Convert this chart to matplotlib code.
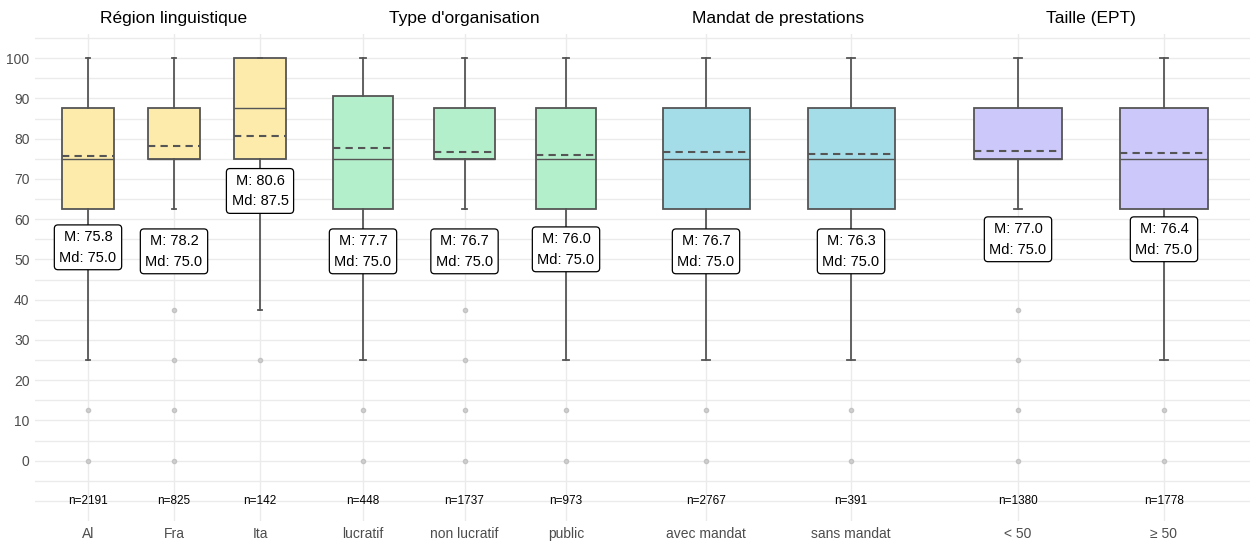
import numpy as np
import matplotlib
matplotlib.use("Agg")
import matplotlib.pyplot as plt

plt.rcParams['font.family'] = ['Liberation Sans', 'DejaVu Sans']

# facets
titles = ["Région linguistique", "Type d'organisation", "Mandat de prestations", "Taille (EPT)"]
categories = [["Al", "Fra", "Ita"],
              ["lucratif", "non lucratif", "public"],
              ["avec mandat", "sans mandat"],
              ["< 50", "≥ 50"]]
fills = ["#FCEBAB", "#B4EFCC", "#A4DDE8", "#CCC9FA"]

# box statistics per category
q1 = [[62.5, 75, 75], [62.5, 75, 62.5], [62.5, 62.5], [75, 62.5]]
med = [[75, 75, 87.5], [75, 75, 75], [75, 75], [75, 75]]
q3 = [[87.5, 87.5, 100], [90.625, 87.5, 87.5], [87.5, 87.5], [87.5, 87.5]]
whislo = [[25, 62.5, 37.5], [25, 62.5, 25], [25, 25], [62.5, 25]]
whishi = [[100, 100, 100], [100, 100, 100], [100, 100], [100, 100]]
means = [[75.8, 78.2, 80.6], [77.7, 76.7, 76.0], [76.7, 76.3], [77.0, 76.4]]
fliers = [[[12.5, 0], [37.5, 25, 12.5, 0], [25]],
          [[12.5, 0], [37.5, 25, 12.5, 0], [12.5, 0]],
          [[12.5, 0], [12.5, 0]],
          [[37.5, 25, 12.5, 0], [12.5, 0]]]
counts = [[2191, 825, 142], [448, 1737, 973], [2767, 391], [1380, 1778]]

# where the M/Md labels sit
label_y = [[53, 52, 67], [52, 52, 52.5], [52, 52], [55, 55]]

W, H = 1253, 541
fig = plt.figure(figsize=(W / 100, H / 100), dpi=100)

# panel extents in pixels: (left, right, first category px, spacing px)
panels = [(35, 308, 88, 86), (308, 622, 363, 101.5), (622, 934, 706, 145), (934, 1250, 1018, 146)]
top_px, bot_px = 34, 521
ylo, yhi = -15, 106

grid_c = "#EBEBEB"
edge_c = "#555555"

for i, (l, r, c0, sp) in enumerate(panels):
    ax = fig.add_axes([l / W, 1 - bot_px / H, (r - l) / W, (bot_px - top_px) / H])
    n = len(categories[i])
    ax.set_xlim(1 - (c0 - l) / sp, n + (r - (c0 + sp * (n - 1))) / sp)
    ax.set_ylim(ylo, yhi)
    for s in ax.spines.values():
        s.set_visible(False)
    for y in np.arange(-10, 106, 5):
        ax.axhline(y, color=grid_c, lw=1.0, zorder=0)
    for x in range(1, n + 1):
        ax.axvline(x, color=grid_c, lw=1.0, zorder=0)

    stats = []
    for j in range(n):
        stats.append(dict(med=med[i][j], q1=q1[i][j], q3=q3[i][j],
                          whislo=whislo[i][j], whishi=whishi[i][j],
                          mean=means[i][j], fliers=fliers[i][j]))
    ax.bxp(stats, positions=range(1, n + 1), widths=0.6, capwidths=0.05,
           patch_artist=True, showmeans=True, meanline=True,
           boxprops=dict(facecolor=fills[i], edgecolor=edge_c, lw=1.3),
           whiskerprops=dict(color=edge_c, lw=1.3),
           capprops=dict(color=edge_c, lw=1.3),
           medianprops=dict(color=edge_c, lw=1.0),
           meanprops=dict(color=edge_c, lw=1.5, ls=(0, (3.5, 2.5))),
           flierprops=dict(marker='o', markersize=3, markerfacecolor="#CCCCCC",
                           markeredgecolor="#C0C0C0", alpha=0.9))

    for j in range(n):
        ax.text(j + 1, label_y[i][j], f"M: {means[i][j]:.1f}\nMd: {med[i][j]:.1f}",
                ha='center', va='center', fontsize=10.5, linespacing=1.6, zorder=5,
                bbox=dict(boxstyle="round,pad=0.35,rounding_size=0.25",
                          fc="white", ec="black", lw=0.9))
        ax.text(j + 1, -10, f"n={counts[i][j]}", ha='center', va='center',
                fontsize=8.5, color="black", zorder=5)

    ax.set_xticks(range(1, n + 1))
    ax.set_xticklabels(categories[i], fontsize=10, color="#4D4D4D")
    ax.tick_params(axis='x', length=0, pad=4)
    if i == 0:
        ax.set_yticks(range(0, 101, 10))
        ax.tick_params(axis='y', length=0, labelsize=10, labelcolor="#4D4D4D", pad=4)
    else:
        ax.set_yticks([])
    ax.set_facecolor("none")
    fig.text((c0 + sp * (n - 1) / 2) / W, 1 - 19 / H, titles[i], ha='center', va='center',
             fontsize=12.5, color="black")

fig.savefig("out.png", dpi=100, facecolor="white")
